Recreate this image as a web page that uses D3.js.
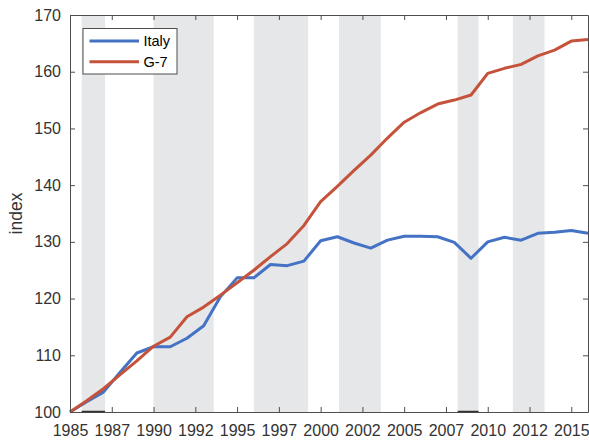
<!DOCTYPE html>
<html>
<head>
<meta charset="utf-8">
<script src="https://cdn.jsdelivr.net/npm/d3@7"></script>
<style>
  body { margin: 0; background: #fff; }
  svg { display: block; font-family: "Liberation Sans", Arial, sans-serif; }
</style>
</head>
<body>
<svg id="chart" width="589" height="440"></svg>
<script>
// Data
const years = d3.range(1985, 2017);
const italy = [100, 101.8, 103.5, 107.0, 110.4, 111.5, 111.5, 113.0, 115.2, 120.3,
  123.65, 123.65, 126.0, 125.8, 126.6, 130.2, 130.9, 129.8, 128.9, 130.3,
  131.0, 131.0, 130.9, 129.9, 127.1, 130.0, 130.8, 130.3, 131.5, 131.7, 132.0, 131.5];
const g7 = [100, 102.0, 104.1, 106.6, 109.0, 111.6, 113.2, 116.8, 118.5, 120.6,
  122.8, 125.0, 127.4, 129.7, 132.9, 137.1, 139.8, 142.6, 145.3, 148.3,
  151.1, 152.8, 154.3, 155.0, 155.9, 159.7, 160.6, 161.3, 162.8, 163.8, 165.4, 165.7];
// Recession periods (fractional years)
const recessions = [[1985.7, 1987.1], [1990.0, 1993.6], [1996.0, 1999.25],
  [2001.1, 2003.6], [2008.2, 2009.45], [2011.5, 2013.4]];
const xTicks = d3.range(1985, 2016, 2.5);
const yTicks = d3.range(100, 171, 10);
const seriesNames = ["Italy", "G-7"];

const colors = ["#4472c4", "#c5533b"];
const axisColor = "#4d4d4d";
const textColor = "#333333";
// bands whose base edge shows darker in the original
const darkBase = [0, 4];

const margin = { left: 70, right: 1, top: 15, bottom: 28 };
const width = 589, height = 440;
const svg = d3.select("#chart");

const x = d3.scaleLinear().domain([1985, 2016]).range([margin.left, width - margin.right]);
const y = d3.scaleLinear().domain([100, 170]).range([height - margin.bottom, margin.top]);

// Recession shading
svg.append("g")
  .selectAll("rect")
  .data(recessions)
  .join("rect")
  .attr("x", (d) => x(d[0]))
  .attr("y", y(170))
  .attr("width", (d) => x(d[1]) - x(d[0]))
  .attr("height", y(100) - y(170))
  .attr("fill", "#e6e7e9");

// Lines
const line = d3.line()
  .x((d, i) => x(years[i]))
  .y((d) => y(d));

[italy, g7].forEach((series, i) => {
  svg.append("path")
    .datum(series)
    .attr("fill", "none")
    .attr("stroke", colors[i])
    .attr("stroke-width", 3)
    .attr("stroke-linejoin", "round")
    .attr("d", line);
});

// Axes (box with inward ticks)
const tickLen = 5;
const fmtYear = (d) => String(Math.floor(d));

const axisBottomG = svg.append("g")
  .attr("transform", `translate(0,${y(100)})`)
  .call(d3.axisBottom(x).tickValues(xTicks).tickFormat(fmtYear).tickSizeInner(-tickLen).tickSizeOuter(0).tickPadding(13));
const axisTopG = svg.append("g")
  .attr("transform", `translate(0,${y(170)})`)
  .call(d3.axisTop(x).tickValues(xTicks).tickFormat("").tickSizeInner(-tickLen).tickSizeOuter(0));
const axisLeftG = svg.append("g")
  .attr("transform", `translate(${x(1985)},0)`)
  .call(d3.axisLeft(y).tickValues(yTicks).tickSizeInner(-tickLen).tickSizeOuter(0).tickPadding(9));
const axisRightG = svg.append("g")
  .attr("transform", `translate(${x(2016)},0)`)
  .call(d3.axisRight(y).tickValues(yTicks).tickFormat("").tickSizeInner(-tickLen).tickSizeOuter(0));

[axisBottomG, axisTopG, axisLeftG, axisRightG].forEach((g) => {
  g.select(".domain").attr("stroke", axisColor);
  g.selectAll(".tick line").attr("stroke", axisColor);
  g.selectAll(".tick text")
    .attr("fill", textColor)
    .attr("font-size", "16px")
    .attr("font-family", "Liberation Sans, Arial, sans-serif");
});

// Darker base edge on some bands
svg.append("g")
  .selectAll("line")
  .data(darkBase.map((i) => recessions[i]))
  .join("line")
  .attr("x1", (d) => x(d[0]))
  .attr("x2", (d) => x(d[1]))
  .attr("y1", y(100) - 0.5)
  .attr("y2", y(100) - 0.5)
  .attr("stroke", "#333")
  .attr("stroke-width", 1.5);

// Y label
svg.append("text")
  .attr("transform", `translate(22,${(y(100) + y(170)) / 2}) rotate(-90)`)
  .attr("text-anchor", "middle")
  .attr("fill", textColor)
  .attr("font-size", "17.5px")
  .text("index");

// Legend
const legend = svg.append("g").attr("transform", "translate(83,28.5)");
legend.append("rect")
  .attr("width", 94)
  .attr("height", 45.5)
  .attr("fill", "#fff")
  .attr("stroke", axisColor);

seriesNames.forEach((name, i) => {
  const ly = 12.5 + i * 20.7;
  legend.append("line")
    .attr("x1", 6.5).attr("x2", 56)
    .attr("y1", ly).attr("y2", ly)
    .attr("stroke", colors[i])
    .attr("stroke-width", 3);
  legend.append("text")
    .attr("x", 60.5)
    .attr("y", ly)
    .attr("dy", "0.35em")
    .attr("fill", "#000")
    .attr("font-size", "14.5px")
    .text(name);
});
</script>
</body>
</html>
